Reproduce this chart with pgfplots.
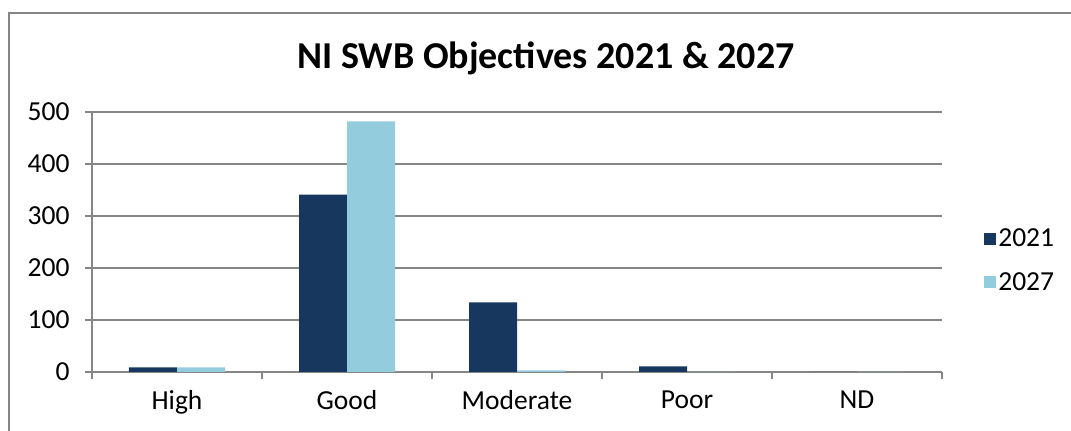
\documentclass[border=0pt]{standalone}
\usepackage{fontspec}
\setmainfont{Carlito}
\usepackage{pgfplots}
\pgfplotsset{compat=1.18}
\definecolor{navy}{HTML}{17375E}
\definecolor{lblue}{HTML}{93CDDD}
\definecolor{gridg}{HTML}{868686}
\begin{document}
\begin{tikzpicture}[x=1pt,y=1pt]
\path[use as bounding box] (0,0) rectangle (1071,431);
\draw[gridg, line width=2pt] (9,0) -- (9,418) -- (1071,418);
\node[font=\fontsize{38}{41}\selectfont\bfseries] at (546,373) {NI SWB Objectives 2021 \& 2027};
\begin{axis}[
  at={(92pt,59pt)}, anchor=south west,
  scale only axis, width=850pt, height=260pt,
  ybar=0pt, bar width=48pt,
  xmin=-0.5, xmax=4.5, ymin=0, ymax=500,
  ytick={0,100,...,500},
  xtick={-0.5,0.5,...,4.5}, xticklabels={},
  extra x ticks={0,1,2,3,4},
  extra x tick labels={High,Good,Moderate,Poor,ND},
  extra x tick style={major tick length=0pt, grid=none,
    xticklabel style={yshift=-15pt}},
  axis x line*=bottom, axis y line*=left,
  axis line style={gridg, line width=1.5pt, -},
  tick style={gridg, line width=1.3pt},
  major tick length=7pt, tick align=outside,
  ymajorgrids, grid style={gridg, line width=1.3pt},
  tick label style={font=\fontsize{27.5}{31}\selectfont, text=black},
  yticklabel style={xshift=-12pt},
  /pgf/number format/assume math mode=true,
  legend style={draw=none, fill=none, at={(1.046,0.43)}, anchor=west,
    font=\fontsize{27.5}{31}\selectfont, row sep=20pt},
  legend cell align=left,
  legend image code/.code={\fill[#1] (0pt,-6pt) rectangle (12pt,6pt);},
]
\addplot[fill=navy, draw=none] coordinates {(0,9) (1,341) (2,134) (3,11) (4,0)};
\addplot[fill=lblue, draw=none] coordinates {(0,9) (1,482) (2,3) (3,0) (4,0)};
\legend{2021,2027}
\end{axis}
\end{tikzpicture}
\end{document}
